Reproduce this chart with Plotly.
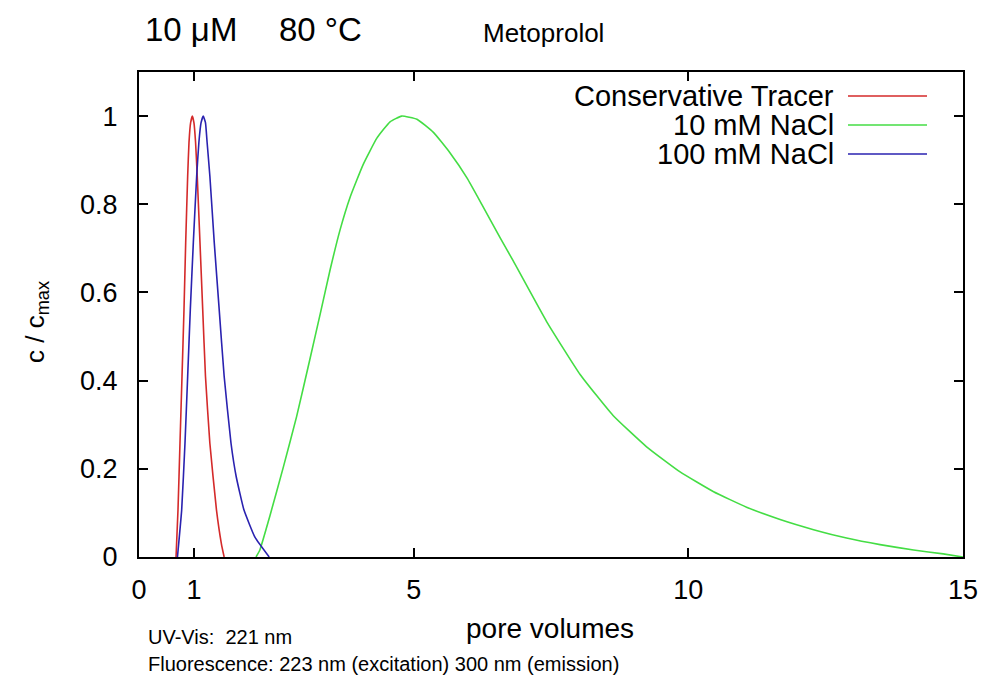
import plotly.graph_objects as go

# ---- data ----
tracer_x = [0.674, 0.71, 0.746, 0.783, 0.819, 0.85, 0.886, 0.91, 0.94, 0.971, 1.0, 1.03, 1.06, 1.11, 1.16, 1.21, 1.29, 1.41, 1.50, 1.55]
tracer_y = [0.0, 0.107, 0.258, 0.41, 0.561, 0.713, 0.864, 0.94, 0.985, 1.0, 0.985, 0.94, 0.864, 0.713, 0.561, 0.41, 0.258, 0.107, 0.03, 0.0]

nacl10_x = [2.13, 2.20, 2.38, 2.63, 2.87, 3.11, 3.30, 3.48, 3.66, 3.84, 4.08, 4.33, 4.57, 4.78, 5.06, 5.36, 5.66, 5.97, 6.24,
            6.57, 6.81, 7.42, 8.03, 8.63, 9.24, 9.85, 10.46, 11.06, 11.67, 12.28, 12.88, 13.49, 14.10, 14.64, 15.0]
nacl10_y = [0.0, 0.016, 0.092, 0.205, 0.319, 0.448, 0.552, 0.652, 0.742, 0.815, 0.890, 0.950, 0.987, 1.0, 0.993, 0.963, 0.917, 0.860, 0.800,
            0.725, 0.672, 0.534, 0.414, 0.321, 0.250, 0.193, 0.148, 0.113, 0.085, 0.062, 0.043, 0.028, 0.016, 0.007, 0.0]

nacl100_x = [0.70, 0.777, 0.837, 0.886, 0.934, 0.989, 1.05, 1.09, 1.13, 1.17, 1.21, 1.24, 1.29, 1.37, 1.46, 1.55, 1.675, 1.77, 1.91, 2.11, 2.37]
nacl100_y = [0.0, 0.107, 0.258, 0.41, 0.561, 0.713, 0.864, 0.94, 0.985, 1.0, 0.985, 0.94, 0.864, 0.713, 0.561, 0.41, 0.258, 0.182, 0.107, 0.045, 0.0]

series_names = ["Conservative Tracer", "10 mM NaCl", "100 mM NaCl"]
series_colors = ["#d42a2a", "#44dd44", "#2a22b0"]

x_ticks = [0, 1, 5, 10, 15]
y_ticks = [0, 0.2, 0.4, 0.6, 0.8, 1]
y_tick_text = ["0", "0.2", "0.4", "0.6", "0.8", "1"]

SANS = "Liberation Sans, Arial, Helvetica, sans-serif"

fig = go.Figure()
for xs, ys, name, col in zip([tracer_x, nacl10_x, nacl100_x], [tracer_y, nacl10_y, nacl100_y], series_names, series_colors):
    fig.add_trace(go.Scatter(x=xs, y=ys, mode="lines", name=name,
                             line=dict(color=col, width=1.6, shape="spline", smoothing=0.4),
                             showlegend=False))

axis_common = dict(showline=True, linecolor="black", linewidth=2, mirror="ticks",
                   ticks="inside", ticklen=9, tickwidth=2, tickcolor="black",
                   showgrid=False, zeroline=False, automargin=False)

fig.update_layout(
    width=982, height=680,
    margin=dict(l=139, r=19, t=72, b=123),
    paper_bgcolor="white", plot_bgcolor="white",
    xaxis=dict(range=[0, 15], tickvals=x_ticks, ticktext=[str(v) for v in x_ticks],
               ticklabelstandoff=8,
               tickfont=dict(family=SANS, size=27, color="black"), **axis_common),
    yaxis=dict(range=[0, 1.1], tickvals=y_ticks, ticktext=y_tick_text,
               ticklabelstandoff=14,
               tickfont=dict(family=SANS, size=27, color="black"), **axis_common),
)

def px_x(p):
    return (p - 139) / 824

def px_y(p):
    return (557 - p) / 485

ann = []
# titles
ann.append(dict(text="10 \u03bcM", xref="paper", yref="paper", x=px_x(143), y=px_y(29),
                xanchor="left", yanchor="middle", showarrow=False, font=dict(family=SANS, size=33, color="black")))
ann.append(dict(text="80 \u00b0C", xref="paper", yref="paper", x=px_x(277), y=px_y(29),
                xanchor="left", yanchor="middle", showarrow=False, font=dict(family=SANS, size=33, color="black")))
ann.append(dict(text="Metoprolol", xref="paper", yref="paper", x=px_x(481), y=px_y(33),
                xanchor="left", yanchor="middle", showarrow=False, font=dict(family=SANS, size=26, color="black")))
# axis titles
ann.append(dict(text="pore volumes", xref="paper", yref="paper", x=px_x(550), y=px_y(628),
                xanchor="center", yanchor="middle", showarrow=False, font=dict(family=SANS, size=28, color="black")))
ann.append(dict(text="c / c<sub>max</sub>", xref="paper", yref="paper", x=px_x(36), y=px_y(322),
                xanchor="center", yanchor="middle", textangle=-90, showarrow=False,
                font=dict(family=SANS, size=26, color="black")))
# notes
ann.append(dict(text="UV-Vis:&nbsp;&nbsp;221 nm", xref="paper", yref="paper", x=px_x(146), y=px_y(637),
                xanchor="left", yanchor="middle", showarrow=False, font=dict(family=SANS, size=20, color="black")))
ann.append(dict(text="Fluorescence: 223 nm (excitation) 300 nm (emission)", xref="paper", yref="paper",
                x=px_x(146), y=px_y(664),
                xanchor="left", yanchor="middle", showarrow=False, font=dict(family=SANS, size=20, color="black")))

# gnuplot-style legend (text right-aligned, sample line to its right)
legend_rows_px = [96, 125, 154]
shapes = []
for name, col, ypx in zip(series_names, series_colors, legend_rows_px):
    yp = px_y(ypx)
    ann.append(dict(text=name, xref="paper", yref="paper", x=px_x(836), y=yp,
                    xanchor="right", yanchor="middle", showarrow=False, font=dict(family=SANS, size=29, color="black")))
    shapes.append(dict(type="line", xref="paper", yref="paper", x0=px_x(848), x1=px_x(927),
                       y0=yp, y1=yp, line=dict(color=col, width=1.6)))

fig.update_layout(annotations=ann, shapes=shapes)
fig.write_html("out.html", config={"displayModeBar": False})

# remove the default page margin so the figure sits at the window's top-left corner
with open("out.html", "r", encoding="utf-8") as f:
    html = f.read()
html = html.replace("<body>", '<body style="margin:0;padding:0;">', 1)
html = html.replace("<head>", "<head><style>html,body{margin:0;padding:0;overflow:hidden;}</style>", 1)
with open("out.html", "w", encoding="utf-8") as f:
    f.write(html)
